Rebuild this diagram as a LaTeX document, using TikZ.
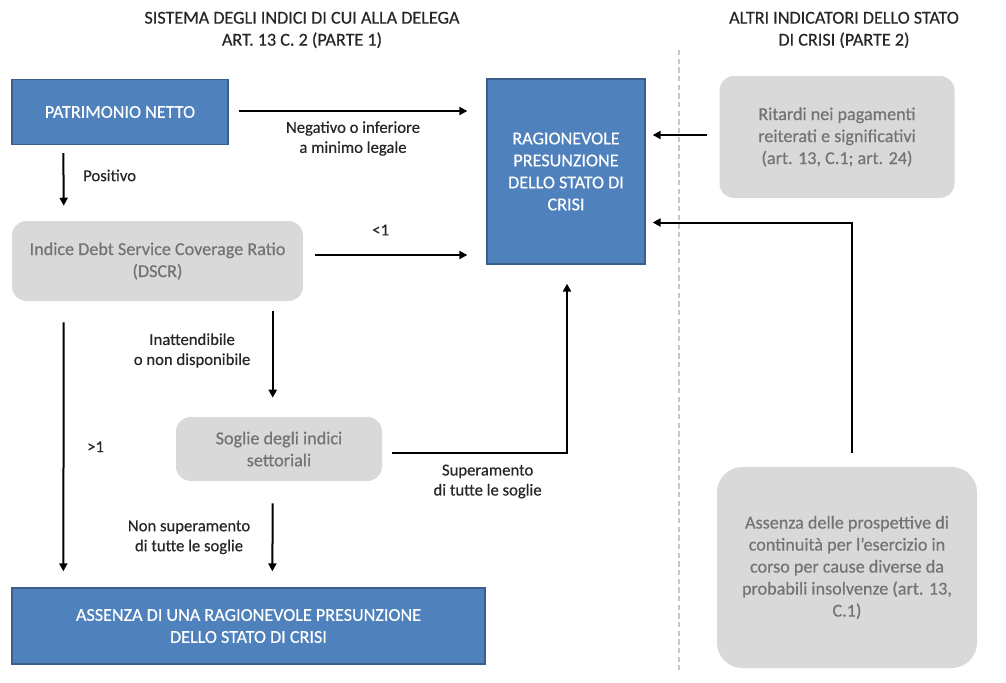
\documentclass[tikz,border=0pt]{standalone}
\usepackage{fontspec}
\setmainfont{Carlito}[FakeBold=0.4]
\usetikzlibrary{calc,arrows.meta}
\definecolor{boxblue}{HTML}{4F81BD}
\definecolor{boxblueline}{HTML}{3A5F8C}
\definecolor{boxgray}{HTML}{D9D9D9}
\definecolor{txtgray}{HTML}{737373}
\definecolor{txtdark}{HTML}{262626}
\begin{document}
\begin{tikzpicture}[x=0.75pt, y=-0.75pt,
    every node/.style = {font=\fontsize{12.5}{15}\selectfont, text=txtdark},
    bluebox/.style = {rectangle, draw=boxblueline, line width=1pt, fill=boxblue, text=white, align=center, inner sep=0, font=\fontsize{13.6}{16.5}\selectfont},
    graybox/.style = {rectangle, rounded corners=11pt, fill=boxgray, text=txtgray, align=center, inner sep=0, font=\fontsize{13.6}{16.5}\selectfont},
    title/.style = {align=center, font=\fontsize{13.6}{16.5}\selectfont},
    arr/.style = {-{Triangle[length=6pt,width=6pt]}, line width=1.5pt, draw=black},
    lbl/.style = {align=center, inner sep=2pt}]
    \useasboundingbox (0,0) rectangle (1006,682);

    \node[title] (title1) at (302,30) {SISTEMA DEGLI INDICI DI CUI ALLA DELEGA\\ART. 13 C. 2 (PARTE 1)};
    \node[title] (title2) at (844,30) {ALTRI INDICATORI DELLO STATO\\DI CRISI (PARTE 2)};
    \draw[color=black!22, line width=0.9pt, dash pattern=on 4pt off 2.5pt] (679,50) -- (679,670);

    \node[bluebox, minimum width=162pt,   minimum height=48.75pt]  (pn) at (120,112)    {PATRIMONIO NETTO};
    \node[bluebox, minimum width=118.5pt, minimum height=138.75pt] (rp) at (566,171.5)  {RAGIONEVOLE\\PRESUNZIONE\\DELLO STATO DI\\CRISI};
    \node[graybox, minimum width=218.25pt, minimum height=60pt]    (ds) at (157.5,261)  {Indice Debt Service Coverage Ratio\\(DSCR)};
    \node[graybox, minimum width=154.5pt, minimum height=48pt]     (sg) at (279,449)    {Soglie degli indici\\settoriali};
    \node[bluebox, minimum width=354.75pt, minimum height=57pt]    (as) at (248.5,626)  {ASSENZA DI UNA RAGIONEVOLE PRESUNZIONE\\DELLO STATO DI CRISI};
    \node[graybox, minimum width=176.25pt, minimum height=91.5pt]  (ri) at (837,137)    {Ritardi nei pagamenti\\reiterati e significativi\\(art. 13, C.1; art. 24)};
    \node[graybox, rounded corners=19pt, minimum width=195pt, minimum height=150.75pt] (pr) at (847,567.5) {Assenza delle prospettive di\\continuità per l’esercizio in\\corso per cause diverse da\\probabili insolvenze (art. 13,\\C.1)};

    \draw[arr] ($(pn.east)+(10,-1)$) -- node[lbl, below=5pt] {Negativo o inferiore\\a minimo legale} ($(pn.east -| rp.west)+(-19,-1)$);
    \draw[arr] ($(pn.south west)+(52,8)$) -- node[lbl, right=12pt, yshift=3pt] {Positivo} ($(ds.north west)+(52,-15)$);
    \draw[arr] ($(ds.east)+(12,-6)$) -- node[lbl, above=12pt, xshift=-8pt] {<1} ($(ds.east -| rp.west)+(-19,-6)$);
    \draw[arr] ($(ds.south west)+(52,21)$) -- node[lbl, right=15pt] {>1} ($(as.north west)+(52,-16)$);
    \draw[arr] ($(ds.south west)+(261,10)$) -- node[lbl, left=14pt, yshift=3pt] {Inattendibile\\o non disponibile} ($(sg.north west)+(97,-19)$);
    \draw[arr] ($(sg.east)+(10,4)$) -| node[lbl, pos=0.25, below=6pt, xshift=6pt] {Superamento\\di tutte le soglie} ($(rp.south)+(1,19)$);
    \draw[arr] ($(sg.south west)+(97,22)$) -- node[lbl, left=14pt] {Non superamento\\di tutte le soglie} ($(as.north west)+(261,-16)$);
    \draw[arr] ($(ri.west)+(-12,-2)$) -- ($(ri.west -| rp.east)+(7,-2)$);
    \draw[arr] ($(pr.north)+(5,-14)$) |- ($(rp.east)+(7,51)$);
\end{tikzpicture}
\end{document}
